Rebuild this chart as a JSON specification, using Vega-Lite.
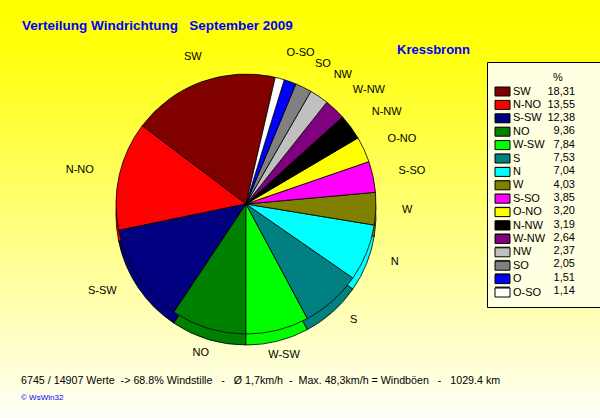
{
  "$schema": "https://vega.github.io/schema/vega-lite/v6.json",
  "width": 600,
  "height": 418,
  "autosize": {"type": "none"},
  "padding": 0,
  "background": "#FFFFF0",
  "config": {"view": {"stroke": null}, "font": "Liberation Sans"},
  "title": {
    "text": "Verteilung Windrichtung\u00a0\u00a0\u00a0September 2009",
    "anchor": "start",
    "frame": "group",
    "dx": 22,
    "offset": -43,
    "fontSize": 13.5,
    "fontWeight": "bold",
    "color": "#0000FF",
    "font": "Liberation Sans",
    "baseline": "alphabetic"
  },
  "datasets": {
    "wind": [
      {"dir": "SW", "pct": 18.31, "pctLabel": "18,31"},
      {"dir": "N-NO", "pct": 13.55, "pctLabel": "13,55"},
      {"dir": "S-SW", "pct": 12.38, "pctLabel": "12,38"},
      {"dir": "NO", "pct": 9.36, "pctLabel": "9,36"},
      {"dir": "W-SW", "pct": 7.84, "pctLabel": "7,84"},
      {"dir": "S", "pct": 7.53, "pctLabel": "7,53"},
      {"dir": "N", "pct": 7.04, "pctLabel": "7,04"},
      {"dir": "W", "pct": 4.03, "pctLabel": "4,03"},
      {"dir": "S-SO", "pct": 3.85, "pctLabel": "3,85"},
      {"dir": "O-NO", "pct": 3.20, "pctLabel": "3,20"},
      {"dir": "N-NW", "pct": 3.19, "pctLabel": "3,19"},
      {"dir": "W-NW", "pct": 2.64, "pctLabel": "2,64"},
      {"dir": "NW", "pct": 2.37, "pctLabel": "2,37"},
      {"dir": "SO", "pct": 2.05, "pctLabel": "2,05"},
      {"dir": "O", "pct": 1.51, "pctLabel": "1,51"},
      {"dir": "O-SO", "pct": 1.14, "pctLabel": "1,14"}
    ]
  },
  "data": {"name": "wind"},
  "layer": [
    {
      "data": {"values": [{}]},
      "mark": {
        "type": "rect",
        "fill": {
          "gradient": "linear",
          "x1": 0, "y1": 0, "x2": 0, "y2": 1,
          "stops": [
            {"offset": 0, "color": "#FFFF00"},
            {"offset": 0.1, "color": "#FFFF08"},
            {"offset": 1, "color": "#FFFFF8"}
          ]
        }
      },
      "encoding": {
        "x": {"value": 0},
        "x2": {"value": "width"},
        "y": {"value": 0},
        "y2": {"value": "height"}
      }
    },
    {
      "mark": {"type": "arc", "x": 246, "y": 215, "outerRadius": 130, "stroke": "#000000", "strokeWidth": 0.8},
      "encoding": {
        "theta": {"field": "pct", "type": "quantitative", "stack": true, "scale": {"range": [0.227, 6.51]}},
        "order": {"field": "pct", "type": "quantitative", "sort": "ascending"},
        "color": {
          "field": "dir", "type": "nominal",
          "scale": {
            "domain": ["SW", "N-NO", "S-SW", "NO", "W-SW", "S", "N", "W", "S-SO", "O-NO", "N-NW", "W-NW", "NW", "SO", "O", "O-SO"],
            "range": ["#800000", "#FF0000", "#000080", "#008000", "#00FF00", "#008080", "#00FFFF", "#808000", "#FF00FF", "#FFFF00", "#000000", "#800080", "#C0C0C0", "#808080", "#0000FF", "#FFFFFF"]
          },
          "legend": {
            "orient": "none", "legendX": 487, "legendY": 76, "zindex": 1,
            "title": null,
            "padding": 10,
            "symbolType": "M-1.5,-0.9H1.5V0.9H-1.5Z", "symbolSize": 100, "symbolStrokeColor": "#000000", "symbolStrokeWidth": 1, "symbolOpacity": 1,
            "labelFontSize": 11, "labelFont": "Liberation Sans", "labelColor": "#000000", "labelOffset": 5, "rowPadding": 0.4
          }
        }
      }
    },
    {
      "mark": {"type": "arc", "x": 246, "y": 204, "outerRadius": 130, "stroke": "#000000", "strokeWidth": 0.8},
      "encoding": {
        "theta": {"field": "pct", "type": "quantitative", "stack": true},
        "order": {"field": "pct", "type": "quantitative", "sort": "ascending"},
        "color": {"field": "dir", "type": "nominal"}
      }
    },
    {
      "mark": {
        "type": "text", "x": 246, "y": 204, "fontSize": 11, "font": "Liberation Sans", "color": "#000000", "baseline": "middle",
        "align": {"expr": "indexof(['S-SW','N-NO'], datum.dir) >= 0 ? 'right' : (indexof(['W-SW','NO','SW'], datum.dir) >= 0 ? 'center' : 'left')"}
      },
      "encoding": {
        "theta": {"field": "pct", "type": "quantitative", "stack": true},
        "order": {"field": "pct", "type": "quantitative", "sort": "ascending"},
        "radius": {"value": 156},
        "text": {"field": "dir", "type": "nominal"},
        "opacity": {"condition": {"test": "datum.dir === 'O'", "value": 0}, "value": 1}
      }
    },
    {
      "mark": {"type": "text", "fontSize": 11},
      "encoding": {
        "text": {"value": ""},
        "opacity": {
          "field": "pctLabel", "type": "nominal",
          "scale": {
            "domain": ["18,31", "13,55", "12,38", "9,36", "7,84", "7,53", "7,04", "4,03", "3,85", "3,20", "3,19", "2,64", "2,37", "2,05", "1,51", "1,14"]
          },
          "legend": {
            "orient": "none", "legendX": 487, "legendY": 62, "zindex": 0,
            "title": "\u2800\u2800\u2800\u2800\u2800\u2800\u2800%\u2800\u2800\u2800\u2800",
            "titleFontSize": 11, "titleFontWeight": "normal", "titleFont": "Liberation Sans", "titleColor": "#000000", "titlePadding": 3,
            "padding": 10, "fillColor": "#FFFFE1", "strokeColor": "#000000",
            "symbolType": "M-1.5,-0.9H1.5V0.9H-1.5Z", "symbolSize": 100, "symbolFillColor": "transparent", "symbolStrokeColor": "transparent", "symbolStrokeWidth": 0, "symbolOpacity": 0,
            "labelFontSize": 11, "labelFont": "Liberation Sans", "labelColor": "#000000", "labelAlign": "right", "labelOffset": 67, "rowPadding": 1.3
          }
        }
      }
    },
    {
      "data": {"values": [{"t": "Kressbronn"}]},
      "mark": {"type": "text", "x": 397, "y": 54, "align": "left", "baseline": "alphabetic", "fontSize": 13, "fontWeight": "bold", "color": "#0000FF", "font": "Liberation Sans"},
      "encoding": {"text": {"field": "t", "type": "nominal"}}
    },
    {
      "data": {"values": [{"t": "6745 / 14907 Werte\u00a0\u00a0-> 68.8% Windstille\u00a0\u00a0\u00a0-\u00a0\u00a0\u00a0Ø 1,7km/h\u00a0\u00a0-\u00a0\u00a0Max. 48,3km/h = Windböen\u00a0\u00a0\u00a0-\u00a0\u00a0\u00a01029.4 km"}]},
      "mark": {"type": "text", "x": 21, "y": 384, "align": "left", "baseline": "alphabetic", "fontSize": 10.7, "color": "#000000", "font": "Liberation Sans"},
      "encoding": {"text": {"field": "t", "type": "nominal"}}
    },
    {
      "data": {"values": [{"t": "© WsWin32"}]},
      "mark": {"type": "text", "x": 21, "y": 400, "align": "left", "baseline": "alphabetic", "fontSize": 8, "color": "#0000FF", "font": "Liberation Sans"},
      "encoding": {"text": {"field": "t", "type": "nominal"}}
    }
  ]
}
